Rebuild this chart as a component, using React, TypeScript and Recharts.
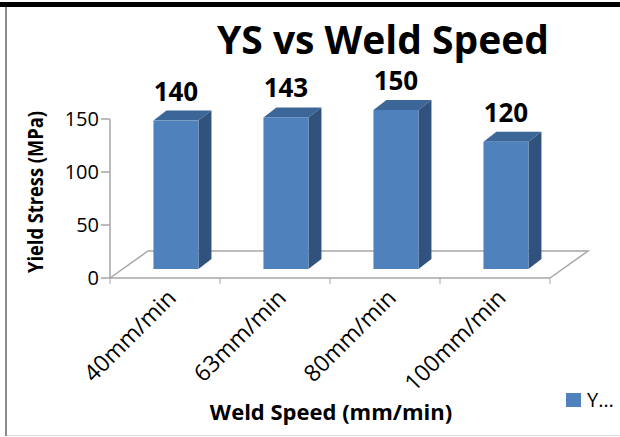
import { BarChart, Bar, XAxis, YAxis, Legend, LabelList, Customized } from "recharts"

const categories = ["40mm/min", "63mm/min", "80mm/min", "100mm/min"]
const yieldStress = [140, 143, 150, 120]
const yTicks = [0, 50, 100, 150]

const data = categories.map((speed, i) => ({ speed, ys: yieldStress[i] }))

const FONT = "'Open Sans', 'DejaVu Sans', sans-serif"
const AXIS = "#a6a6a6"
const FRONT = "#4f81bd"
const SIDE = "#31527c"
const TOP = "#3d6698"

// layout of the fake 3d plot
const LEFT = 110
const RIGHT = 550
const BOTTOM = 278
const HALF_BAND = (RIGHT - LEFT) / categories.length / 2
const FLOOR_DX = 38
const FLOOR_DY = 27
const SHIFT_X = 11
const SHIFT_Y = -9
const DEPTH_X = 13
const DEPTH_Y = 10

function Box3D(props: any) {
  const { x, y, width, height } = props
  const fx = x + SHIFT_X
  const fy = y + SHIFT_Y
  const r = fx + width
  return (
    <g>
      <polygon
        points={`${fx},${fy} ${fx + DEPTH_X},${fy - DEPTH_Y} ${r + DEPTH_X},${fy - DEPTH_Y} ${r},${fy}`}
        fill={TOP}
      />
      <polygon
        points={`${r},${fy} ${r + DEPTH_X},${fy - DEPTH_Y} ${r + DEPTH_X},${fy + height - DEPTH_Y} ${r},${fy + height}`}
        fill={SIDE}
      />
      <rect x={fx} y={fy} width={width} height={height} fill={FRONT} />
    </g>
  )
}

function ValueLabel(props: any) {
  const { x, y, width, value } = props
  return (
    <text
      x={x + width / 2 + SHIFT_X}
      y={y + SHIFT_Y - 20}
      textAnchor="middle"
      fontFamily={FONT}
      fontWeight="bold"
      fontSize={26}
      fill="#000"
    >
      {value}
    </text>
  )
}

function XTick(props: any) {
  const { x, payload, index } = props
  const last = index === categories.length - 1
  const tx = x + 8
  const ty = BOTTOM + 17
  return (
    <g>
      <line x1={x - HALF_BAND} y1={BOTTOM} x2={x - HALF_BAND} y2={BOTTOM + 6} stroke={AXIS} />
      {last && <line x1={x + HALF_BAND} y1={BOTTOM} x2={x + HALF_BAND} y2={BOTTOM + 6} stroke={AXIS} />}
      <text
        x={tx}
        y={ty}
        textAnchor="end"
        dominantBaseline="middle"
        transform={`rotate(-45, ${tx}, ${ty})`}
        fontFamily={FONT}
        fontSize={23}
        fill="#000"
      >
        {payload.value}
      </text>
    </g>
  )
}

function Floor() {
  const pts = [
    [LEFT, BOTTOM],
    [LEFT + FLOOR_DX, BOTTOM - FLOOR_DY],
    [RIGHT + FLOOR_DX, BOTTOM - FLOOR_DY],
    [RIGHT, BOTTOM],
  ]
  return (
    <g>
      <polyline points={pts.map((p) => p.join(",")).join(" ")} fill="none" stroke={AXIS} strokeWidth={1.5} />
      <text x={383} y={54} textAnchor="middle" fontFamily={FONT} fontWeight="bold" fontSize={39} fill="#000">
        YS vs Weld Speed
      </text>
      <text
        x={37}
        y={192}
        textAnchor="middle"
        dominantBaseline="middle"
        transform="rotate(-90, 37, 192)"
        fontFamily={FONT}
        fontWeight="bold"
        fontSize={21}
        textLength={162}
        lengthAdjust="spacingAndGlyphs"
        fill="#000"
      >
        Yield Stress (MPa)
      </text>
      <text x={331} y={420} textAnchor="middle" fontFamily={FONT} fontWeight="bold" fontSize={22} fill="#000">
        Weld Speed (mm/min)
      </text>
    </g>
  )
}

function LegendBox() {
  return (
    <div style={{ display: "flex", alignItems: "center", fontFamily: FONT, fontSize: 20 }}>
      <span style={{ width: 15, height: 14, background: FRONT, marginRight: 6, display: "inline-block" }} />
      <span>Y…</span>
    </div>
  )
}

export default function App() {
  return (
    <div style={{ position: "relative", width: 620, height: 437, background: "#fff" }}>
      <style>{"body{margin:0}"}</style>
      <div style={{ position: "absolute", left: 0, right: 0, top: 2, height: 5, background: "#000" }} />
      <div style={{ position: "absolute", left: 5, width: 2, top: 7, bottom: 1, background: "#8c8c8c" }} />
      <div style={{ position: "absolute", left: 7, right: 0, bottom: 1, height: 1, background: "#d9d9d9" }} />
      <BarChart
        width={620}
        height={437}
        data={data}
        margin={{ top: 119, right: 70, bottom: 0, left: 0 }}
        barCategoryGap="29.5%"
        style={{ position: "absolute", left: 0, top: 0 }}
      >
        <Customized component={Floor} />
        <XAxis
          dataKey="speed"
          height={159}
          stroke={AXIS}
          strokeWidth={1.5}
          tickLine={false}
          tick={<XTick />}
          interval={0}
        />
        <YAxis
          width={110}
          domain={[0, 150]}
          ticks={yTicks}
          stroke={AXIS}
          strokeWidth={1.5}
          tickSize={9}
          tick={{ fill: "#000", fontSize: 20, fontFamily: FONT }}
        />
        <Legend
          layout="vertical"
          align="center"
          verticalAlign="middle"
          wrapperStyle={{ left: 566, top: 386, width: 54 }}
          content={<LegendBox />}
        />
        <Bar dataKey="ys" name="YS (MPa)" shape={<Box3D />} isAnimationActive={false}>
          <LabelList dataKey="ys" content={<ValueLabel />} />
        </Bar>
      </BarChart>
    </div>
  )
}
